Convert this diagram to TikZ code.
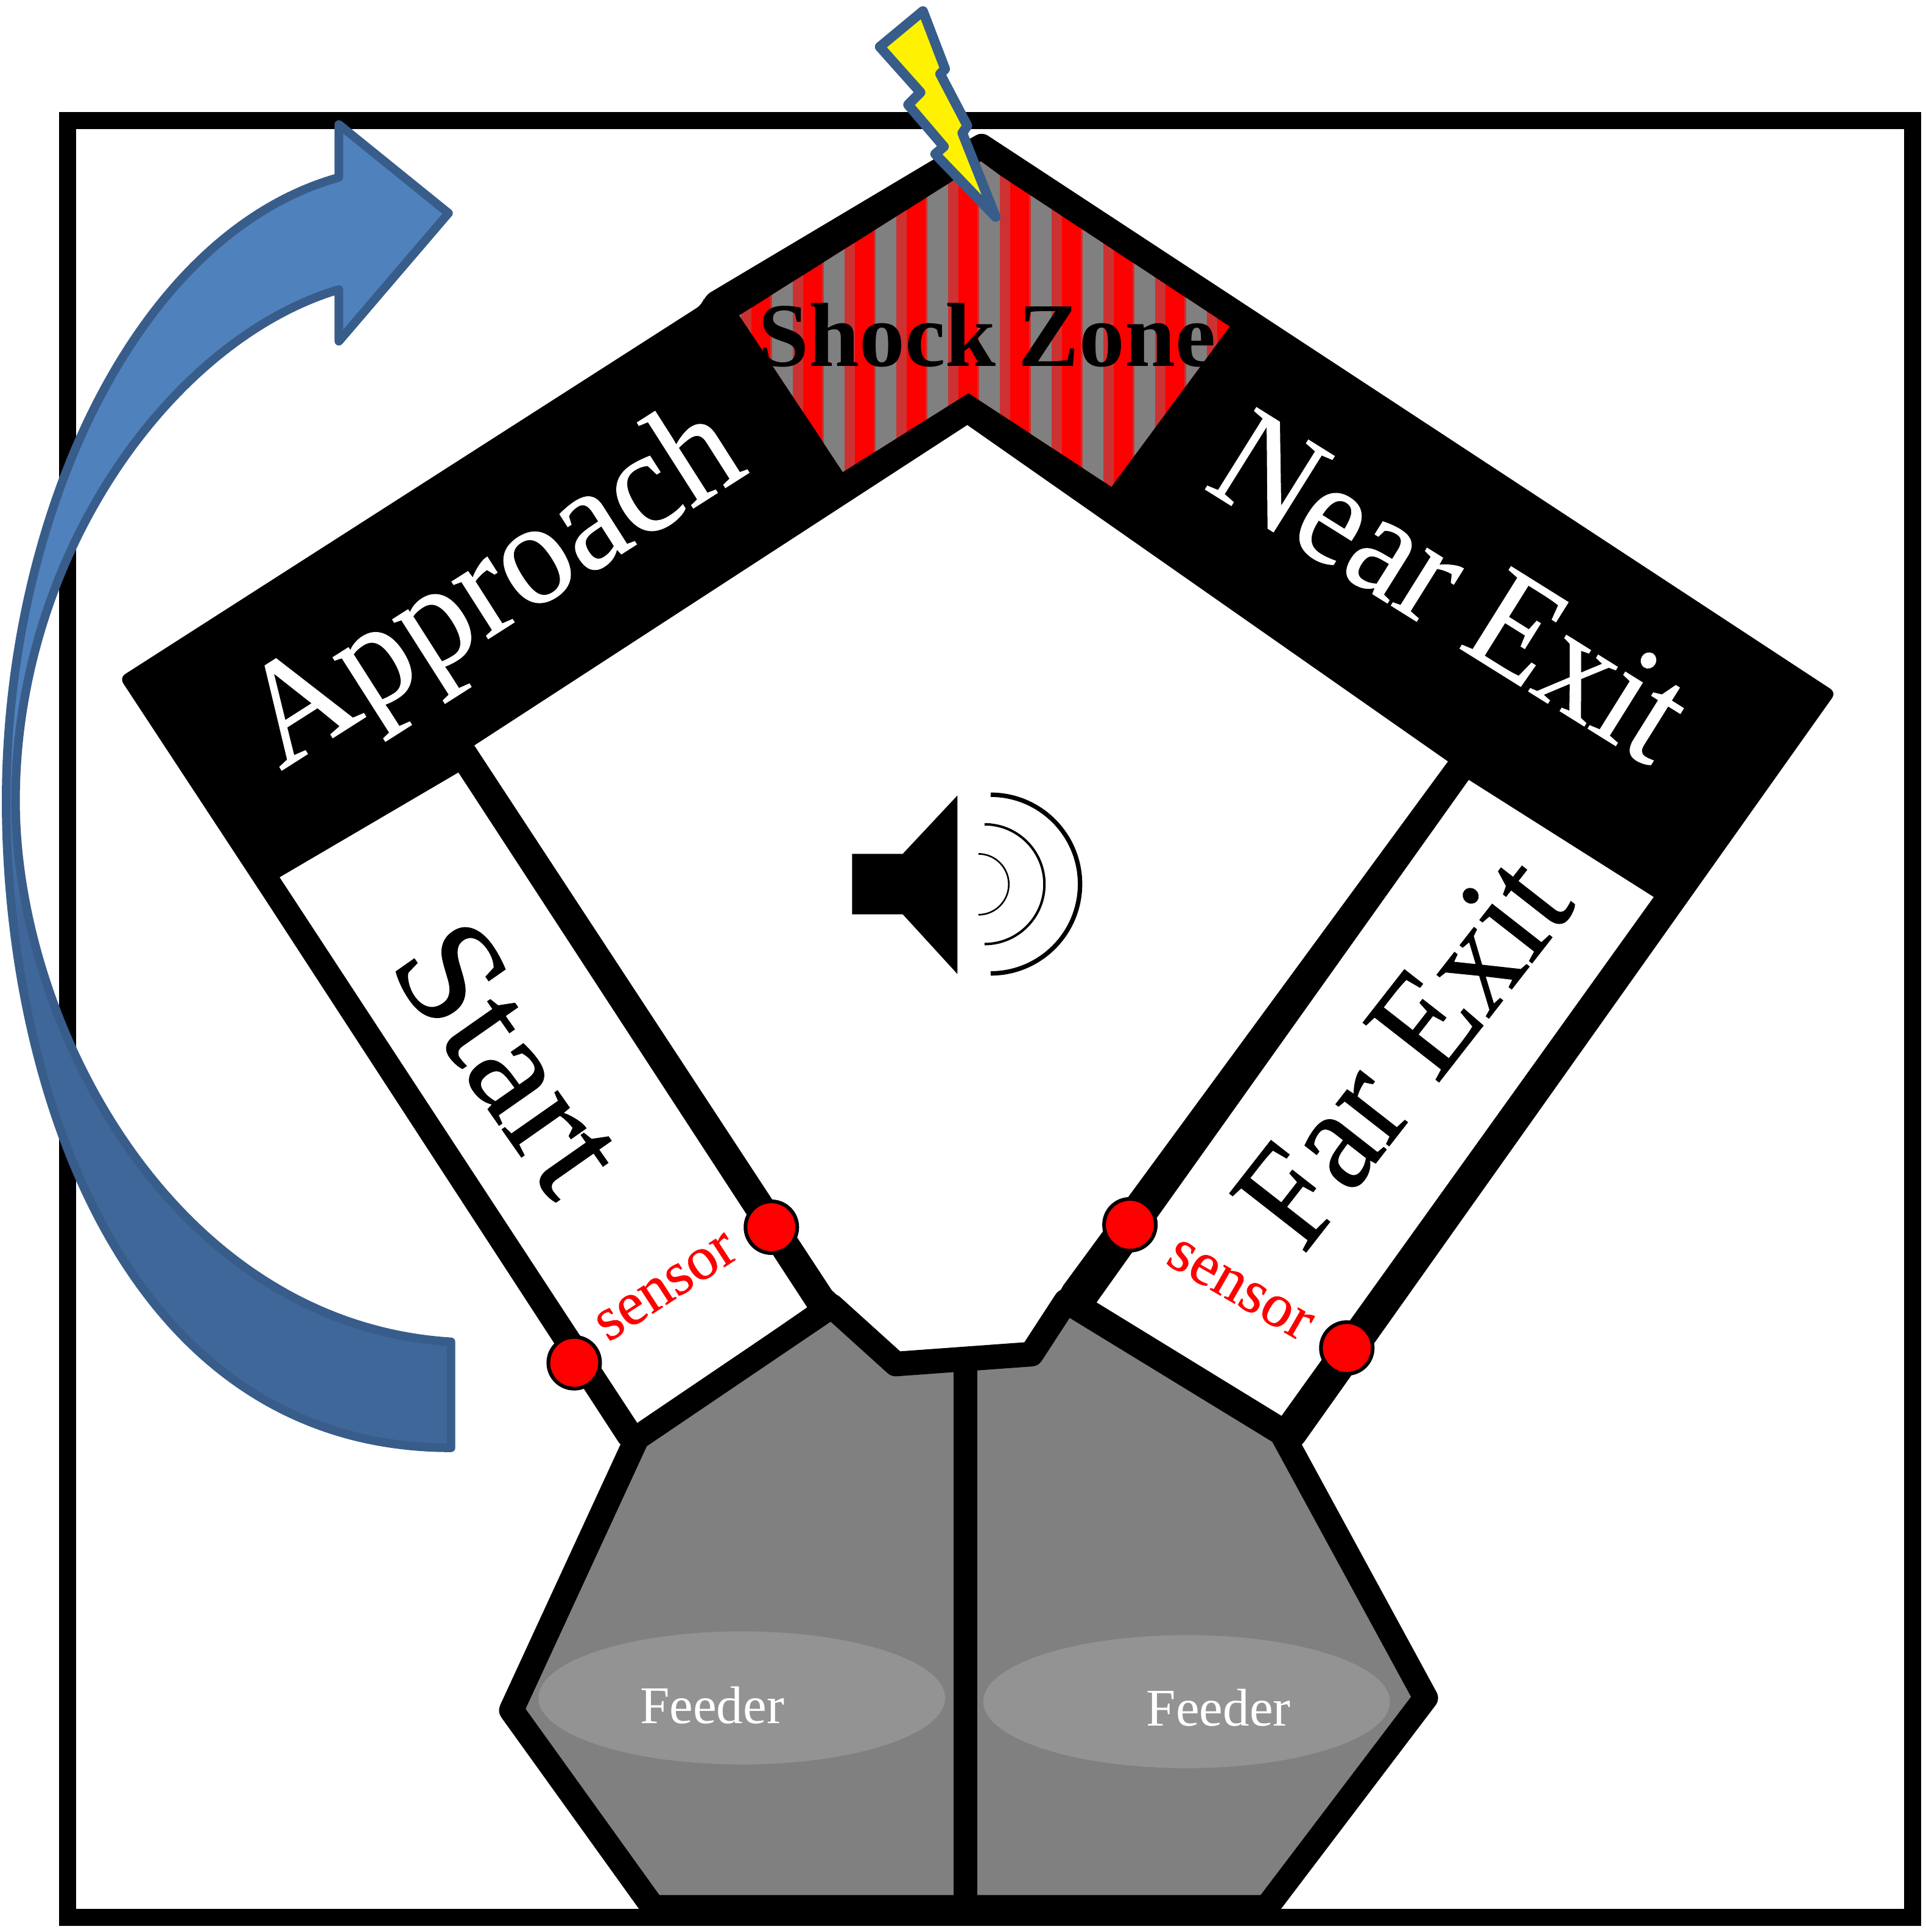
\documentclass[tikz,border=0pt]{standalone}
\usepackage{fontspec}
\setmainfont{Liberation Serif}
\newfontfamily\armfont[FakeBold=0.6]{Liberation Serif}
\usepackage{xcolor}
\usetikzlibrary{shapes.geometric,positioning,calc}
\definecolor{arrowlight}{RGB}{79,129,189}
\definecolor{arrowdark}{RGB}{64,103,153}
\definecolor{arrowline}{RGB}{56,93,138}
\definecolor{feedergray}{RGB}{128,128,128}
\definecolor{traygray}{RGB}{147,147,147}
\definecolor{dimred}{RGB}{205,50,50}
\pgfdeclareverticalshading{arrowblue}{100bp}{color(0bp)=(arrowdark); color(45bp)=(arrowdark); color(52bp)=(arrowlight); color(100bp)=(arrowlight)}

\begin{document}
\begin{tikzpicture}[x=0.02cm,y=-0.02cm,
    armlabel/.style={font=\armfont\fontsize{68}{70}\selectfont,inner sep=0pt},
    sensorlabel/.style={font=\armfont\fontsize{28.5}{30}\selectfont,text=red,inner sep=0pt},
    feederlabel/.style={font=\fontsize{24.5}{26}\selectfont,text=white,inner sep=0pt},
    sensordot/.style={circle,draw=black,fill=red,line width=0.6mm,minimum size=0.84cm,inner sep=0pt}]
  \useasboundingbox (0,0) rectangle (1563,1568);
  \draw[line width=0.28cm] (55,98) rectangle (1552,1556);

  % maze body
  \fill[rounded corners=3pt] (97,550)--(570,247)--(572,240)--(760,128)--(797,107)--(1490,562)--(1055,1175)--(505,1175)--(214,728)--cycle;
  \fill[white] (385,605)--(785,345)--(1175,618)--(863,1043)--(833,1095)--(729,1100)--(675,1047)--cycle;
  \fill[white] (227,712)--(372,627)--(655,1061)--(518,1156)--cycle;
  \fill[white] (1192,633)--(1342,728)--(1040,1149)--(890,1057)--cycle;

  % shock zone
  \begin{scope}
    \clip (600,256)--(770,149)--(796,131)--(811,142)--(998,265)--(902,395)--(786,319)--(684,383)--cycle;
    \fill[red] (590,120) rectangle (1010,400);
    \foreach \x in {593,635,...,1013} {
      \fill[dimred] (\x-10,120) rectangle (\x+17,400);
      \fill[feedergray] (\x-8.5,120) rectangle (\x+8.5,400);
    }
  \end{scope}

  % feeders
  \draw[fill=feedergray,line width=0.4cm,line join=round] (517,1167)--(675,1060)--(727,1107)--(837,1099)--(865,1056)--(1040,1163)--(1157,1378)--(1028,1548)--(530,1548)--(415,1388)--cycle;
  \fill[traygray] (602,1378) ellipse (165 and 54);
  \fill[traygray] (963,1381) ellipse (165 and 54);
  \draw[line width=0.38cm] (783.5,1100)--(783.5,1550);

  % speaker
  \fill (691.5,693)--(732.6,693)--(777,645.6)--(777,790.5)--(732.6,742)--(691.5,742)--cycle;
  \draw[line width=0.026cm] (794,693) arc (-90:90:24.7);
  \draw[line width=0.04cm] (799,669) arc (-90:90:48.6);
  \draw[line width=0.072cm] (804,645) arc (-90:90:72.5);

  % turn arrow
  \draw[shading=arrowblue,draw=arrowline,line width=0.14cm,line join=round]
    (275,144) .. controls (110,190) and (5,420) .. (5,650)
    .. controls (5,880) and (100,1175) .. (366,1175)
    -- (366,1089) .. controls (140,1075) and (12.6,830) .. (12.6,650)
    .. controls (12.6,450) and (140,275) .. (275,235)
    -- (275,277) -- (364,173) -- (275,101) -- cycle;

  % shock bolt
  \draw[fill=yellow,draw=arrowline,line width=0.16cm,line join=round] (749,9)--(714,38)--(747,75)--(737,85)--(766,119)--(759,125)--(808,176)--(781,108)--(785,102)--(763,60)--(767,56)--cycle;

  \node[font=\fontsize{42}{44}\selectfont\bfseries,inner sep=0pt] (shockzone) at (801,272) {Shock Zone};
  \node[armlabel,text=white,rotate=32.5,xscale=0.96] (approach) at (403,480) {Approach};
  \node[armlabel,text=white,rotate=-32,xscale=0.93] (nearexit) at (1178,476) {Near Exit};
  \node[armlabel,rotate=-55,xscale=1.05] (start) at (414,858) {Start};
  \node[armlabel,rotate=52,xscale=0.93] (farexit) at (1138,853) {Far Exit};
  \node[sensorlabel,rotate=33] (sensorstart) at (541,1045) {sensor};
  \node[sensorlabel,rotate=-30] (sensorfar) at (1006,1047) {sensor};
  \node[feederlabel] (feederleft) at (578,1384) {Feeder};
  \node[feederlabel] (feederright) at (989,1386) {Feeder};

  \node[sensordot] (dota) at (626,996) {};
  \node[sensordot] (dotb) at (917,994) {};
  \node[sensordot] (dotc) at (466,1106) {};
  \node[sensordot] (dotd) at (1093,1094) {};
\end{tikzpicture}
\end{document}
